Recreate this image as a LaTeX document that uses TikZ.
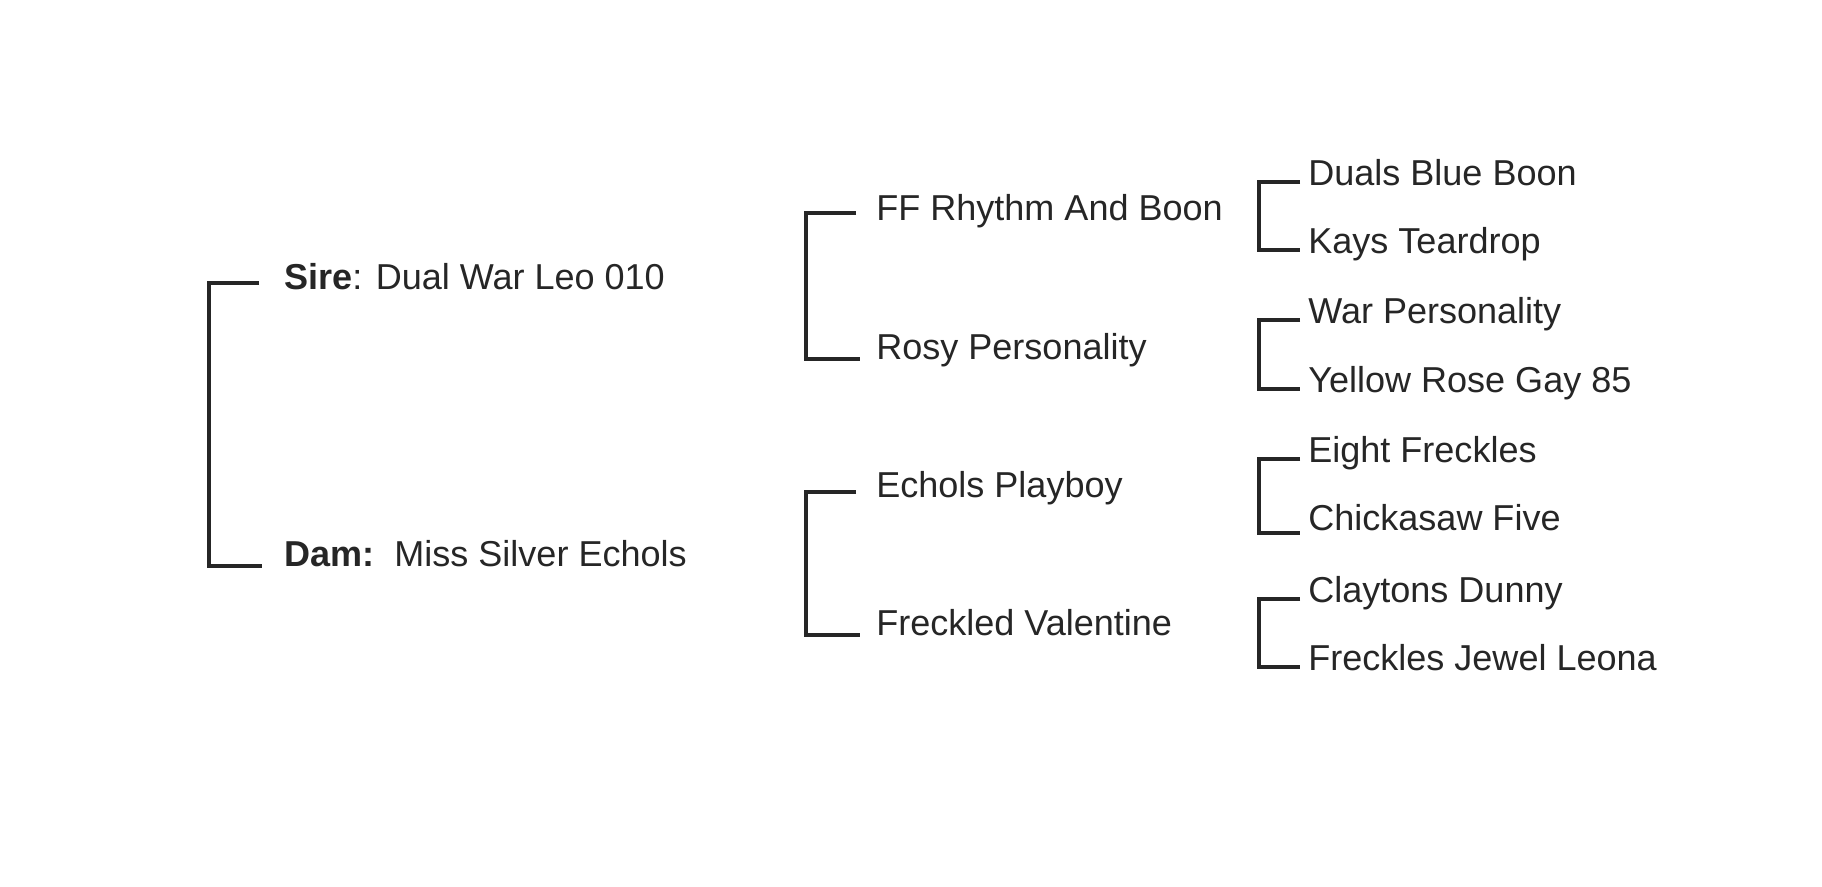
\documentclass[tikz,border=0pt]{standalone}
\usepackage{fontspec}
\setmainfont{Liberation Sans}
\usepackage{tikz}
\usetikzlibrary{positioning,calc}
\definecolor{ink}{HTML}{262626}

\begin{document}
\begin{tikzpicture}[
    horse/.style={anchor=base west,inner sep=0pt,text=ink,font=\fontsize{20.5pt}{24pt}\selectfont},
    bracket/.style={draw=ink,line width=2pt}]
    \useasboundingbox[fill=white] (0,0) rectangle (36.44,-17.72);

    % First generation
    \node[horse] (sire) at (5.68,-5.78) {\textbf{Sire}: Dual War Leo 010};
    \node[horse] (dam)  at (5.68,-11.32) {\textbf{Dam:}\ \ Miss Silver Echols};

    % Second generation
    \node[horse] (ss) at (17.52,-4.40) {FF Rhythm And Boon};
    \node[horse] (sd) at (17.52,-7.18) {Rosy Personality};
    \node[horse] (ds) at (17.52,-9.94) {Echols Playboy};
    \node[horse] (dd) at (17.52,-12.70) {Freckled Valentine};

    % Third generation
    \node[horse] (sss) at (26.16,-3.70) {Duals Blue Boon};
    \node[horse] (ssd) at (26.16,-5.06) {Kays Teardrop};
    \node[horse] (sds) at (26.16,-6.46) {War Personality};
    \node[horse] (sdd) at (26.16,-7.84) {Yellow Rose Gay 85};
    \node[horse] (dss) at (26.16,-9.24) {Eight Freckles};
    \node[horse] (dsd) at (26.16,-10.60) {Chickasaw Five};
    \node[horse] (dds) at (26.16,-12.04) {Claytons Dunny};
    \node[horse] (ddd) at (26.16,-13.40) {Freckles Jewel Leona};

    % Brackets
    \draw[bracket] ([shift={(-0.5,0.12)}]sire.base west) -| ([xshift=-1.5cm]dam.base west) -- ([xshift=-0.45cm]dam.base west);

    \draw[bracket] ([shift={(-0.4,0.14)}]ss.base west) -| ([xshift=-1.4cm]sd.base west) -- ([xshift=-0.32cm]sd.base west);
    \draw[bracket] ([shift={(-0.4,0.1)}]ds.base west) -| ([xshift=-1.4cm]dd.base west) -- ([xshift=-0.32cm]dd.base west);

    \draw[bracket] ([shift={(-0.16,0.06)}]sss.base west) -| ([shift={(-0.98,0.06)}]ssd.base west) -- ([shift={(-0.16,0.06)}]ssd.base west);
    \draw[bracket] ([shift={(-0.16,0.06)}]sds.base west) -| ([shift={(-0.98,0.06)}]sdd.base west) -- ([shift={(-0.16,0.06)}]sdd.base west);
    \draw[bracket] ([shift={(-0.16,0.06)}]dss.base west) -| ([shift={(-0.98,-0.06)}]dsd.base west) -- ([shift={(-0.16,-0.06)}]dsd.base west);
    \draw[bracket] ([shift={(-0.16,0.06)}]dds.base west) -| ([shift={(-0.98,0.06)}]ddd.base west) -- ([shift={(-0.16,0.06)}]ddd.base west);
\end{tikzpicture}
\end{document}
